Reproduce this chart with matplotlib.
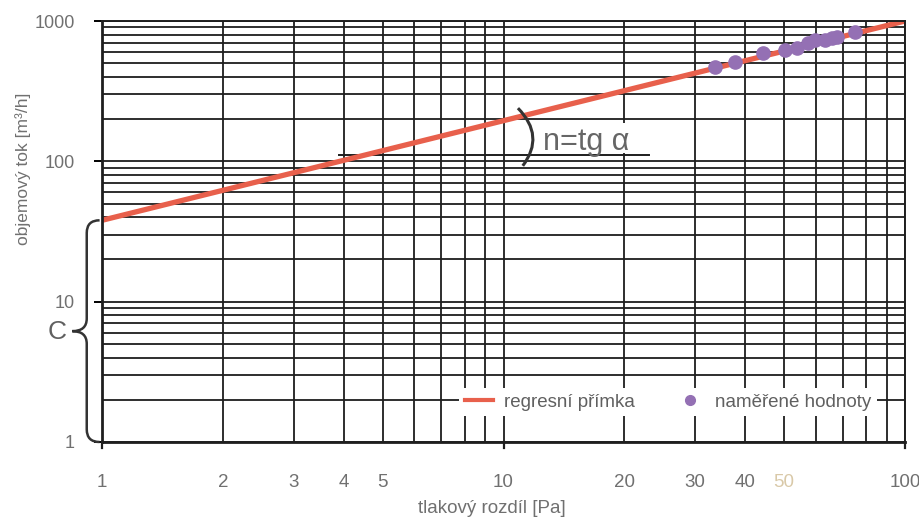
import numpy as np
import matplotlib
matplotlib.use('Agg')
import matplotlib.pyplot as plt
from matplotlib.path import Path
from matplotlib.patches import PathPatch, Rectangle
from matplotlib.lines import Line2D

plt.rcParams['font.family'] = ['Liberation Sans', 'DejaVu Sans']

###############################################################################
# Data
###############################################################################

# regression  Q = C * dp^n
C = 38.0
n = 0.71
dp_fit = [1, 100]

# measured points
dp_meas = [33.6, 37.7, 44.3, 50.2, 53.8, 57.3, 59.7, 63.2, 65.8, 67.7, 75.0]
q_meas = [471, 511, 593, 622, 643, 698, 733, 733, 758, 771, 836]

x_ticks = [1, 2, 3, 4, 5, 10, 20, 30, 40, 50, 100]
x_ticklabels = ['1', '2', '3', '4', '5', '10', '20', '30', '40', '50', '100']
y_ticks = [1, 10, 100, 1000]
y_ticklabels = ['1', '10', '100', '1000']

red = '#e8604c'
purple = '#9470b4'
grey = '#707070'
gridc = '#1e1e1e'

###############################################################################
# Plot
###############################################################################

fig = plt.figure(figsize=(9.19, 5.2), dpi=100)
ax = fig.add_axes([102/919, 78/520, 803/919, 421/520])
ax.set_xscale('log')
ax.set_yscale('log')
ax.set_xlim(1, 100)
ax.set_ylim(1, 1000)

# grid
ax.set_axisbelow(True)
ax.grid(which='both', color=gridc, lw=1.3)
for s in ax.spines.values():
    s.set_color(gridc)
    s.set_linewidth(1.4)
ax.spines['left'].set_linewidth(2)
ax.spines['bottom'].set_linewidth(2)

ax.xaxis.set_minor_formatter(plt.NullFormatter())
ax.yaxis.set_minor_formatter(plt.NullFormatter())
ax.tick_params(which='minor', length=0)
ax.set_xticks(x_ticks)
ax.set_xticklabels(x_ticklabels)
ax.set_yticks(y_ticks)
ax.set_yticklabels(y_ticklabels)
ax.tick_params(axis='x', which='major', length=0, pad=23, labelsize=13.5, labelcolor=grey)
ax.tick_params(axis='y', which='major', length=6, width=1.4, pad=13.5, labelsize=13, labelcolor=grey)
for lab in ax.get_xticklabels():
    if lab.get_text() == '50':
        lab.set_color('#d9c9a8')
# ticks below at decades only
for xv in [1, 10, 100]:
    ax.plot([xv, xv], [0.9, 1], color=gridc, lw=1.6, clip_on=False, zorder=3)

# white patch behind annotation text
ax.add_patch(Rectangle((0.508, 0.686), 0.187, 0.072, transform=ax.transAxes,
                       facecolor='white', edgecolor='none', zorder=0.9))

# regression line and measured values
dp_fit = np.array(dp_fit, dtype=float)
ax.plot(dp_fit, C * dp_fit ** n, color=red, lw=3.8, zorder=2, solid_capstyle='round')
ax.plot(dp_meas, q_meas, 'o', color=purple, ms=9.5, zorder=3, mec=purple)

# angle annotation
ax.plot([3.9, 23], [111, 111], color=gridc, lw=1.4, zorder=1.5)
arc = Path([(0.518, 0.793), (0.552, 0.727), (0.524, 0.656)],
           [Path.MOVETO, Path.CURVE3, Path.CURVE3])
ax.add_patch(PathPatch(arc, transform=ax.transAxes, fc='none', ec='#333333', lw=2.2, zorder=3))
ax.text(0.549, 0.694, 'n=tg α', transform=ax.transAxes, fontsize=22, color='#666666',
        ha='left', va='baseline', zorder=4)

# brace for C
yt = np.log10(C) / 3
ym = yt / 2
xr, xm, xl = -0.003, -0.019, -0.037
d = 0.03
verts = [(xr, yt), (xm, yt), (xm, yt - d),
         (xm, ym + d), (xm, ym), (xl, ym),
         (xm, ym), (xm, ym - d),
         (xm, d), (xm, 0), (xr, 0)]
codes = [Path.MOVETO, Path.CURVE3, Path.CURVE3,
         Path.LINETO, Path.CURVE3, Path.CURVE3,
         Path.CURVE3, Path.CURVE3,
         Path.LINETO, Path.CURVE3, Path.CURVE3]
ax.add_patch(PathPatch(Path(verts, codes), transform=ax.transAxes, fc='none',
                       ec='#333333', lw=1.8, clip_on=False, zorder=4))
ax.text(-0.044, 0.262, 'C', transform=ax.transAxes, fontsize=19, color='#606060',
        ha='right', va='center')

# legend
handles = [Line2D([], [], color=red, lw=3),
           Line2D([], [], ls='', marker='o', color=purple, ms=7)]
leg = ax.legend(handles, ['regresní přímka', 'naměřené hodnoty'], ncol=2,
                loc='center', bbox_to_anchor=(0.705, 0.095), frameon=True,
                fontsize=13.5, labelcolor='#606060', handlelength=1.5,
                handletextpad=0.6, columnspacing=2.2, borderpad=0.3,
                fancybox=False)
leg.get_frame().set_facecolor('white')
leg.get_frame().set_edgecolor('none')
leg.get_frame().set_alpha(1)

ax.set_xlabel('tlakový rozdíl [Pa]', fontsize=13.5, color=grey)
ax.xaxis.set_label_coords(0.486, -0.138)
ax.set_ylabel('objemový tok [m³/h]', fontsize=12.5, color=grey)
ax.yaxis.set_label_coords(-0.088, 0.65)

plt.savefig('out.png', dpi=100)
